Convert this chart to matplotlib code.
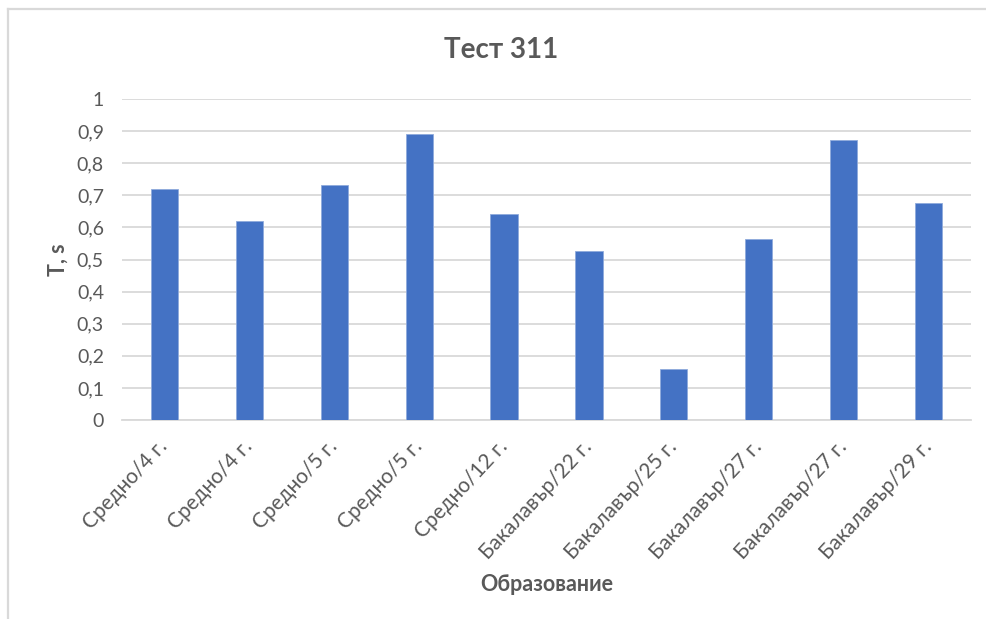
import matplotlib
matplotlib.use("Agg")
import matplotlib.pyplot as plt
from matplotlib.lines import Line2D
from matplotlib.ticker import FuncFormatter, MultipleLocator

plt.rcParams['font.family'] = ['Lato', 'DejaVu Sans']

categories = ["Средно/4 г.", "Средно/4 г.", "Средно/5 г.", "Средно/5 г.", "Средно/12 г.",
              "Бакалавър/22 г.", "Бакалавър/25 г.", "Бакалавър/27 г.", "Бакалавър/27 г.",
              "Бакалавър/29 г."]
values = [0.719, 0.621, 0.733, 0.890, 0.643, 0.526, 0.158, 0.563, 0.871, 0.675]

title = "Тест 311"
x_label = "Образование"
y_label = "T, s"

BAR = "#4472C4"
TEXT = "#595959"
GRID = "#D9D9D9"

W, H = 986, 619
fig = plt.figure(figsize=(W / 100, H / 100), dpi=100)
ax = fig.add_axes([122 / W, 1 - 420 / H, (971 - 122) / W, (420 - 99) / H])

x = range(len(categories))
ax.bar(x, values, width=0.32, color=BAR, edgecolor="#8FAADC", linewidth=0.6, zorder=3)

ax.set_xlim(-0.5, len(categories) - 0.5)
ax.set_ylim(0, 1)
ax.yaxis.set_major_locator(MultipleLocator(0.1))
ax.yaxis.set_major_formatter(FuncFormatter(
    lambda v, _: ("%g" % round(v, 2)).replace(".", ",")))
ax.grid(axis="y", color=GRID, linewidth=1.3, zorder=0)
ax.set_axisbelow(True)

for s in ("top", "right", "left"):
    ax.spines[s].set_visible(False)
ax.spines["bottom"].set_color(GRID)
ax.spines["bottom"].set_linewidth(1.3)

ax.tick_params(axis="y", length=0, pad=13, labelsize=14, labelcolor=TEXT)
ax.tick_params(axis="x", length=0, pad=17, labelsize=15, labelcolor=TEXT)
ax.set_xticks(list(x))
ax.set_xticklabels(categories, rotation=47, ha="right", va="center",
                   rotation_mode="anchor")

ax.set_ylabel(y_label, fontsize=15.5, fontweight="bold", color=TEXT, labelpad=6)
ax.set_xlabel(x_label, fontsize=15.5, fontweight="bold", color=TEXT, labelpad=8)

fig.text(501 / W, 1 - 50 / H, title, ha="center", va="center",
         fontsize=20, fontweight="bold", color=TEXT)

# chart frame edges
fig.add_artist(Line2D([8 / W, 1], [1 - 9 / H, 1 - 9 / H], color=GRID, linewidth=1.6,
                      transform=fig.transFigure))
fig.add_artist(Line2D([8 / W, 8 / W], [0, 1 - 9 / H], color=GRID, linewidth=1.6,
                      transform=fig.transFigure))

fig.savefig("out.png", dpi=100, facecolor="white")
